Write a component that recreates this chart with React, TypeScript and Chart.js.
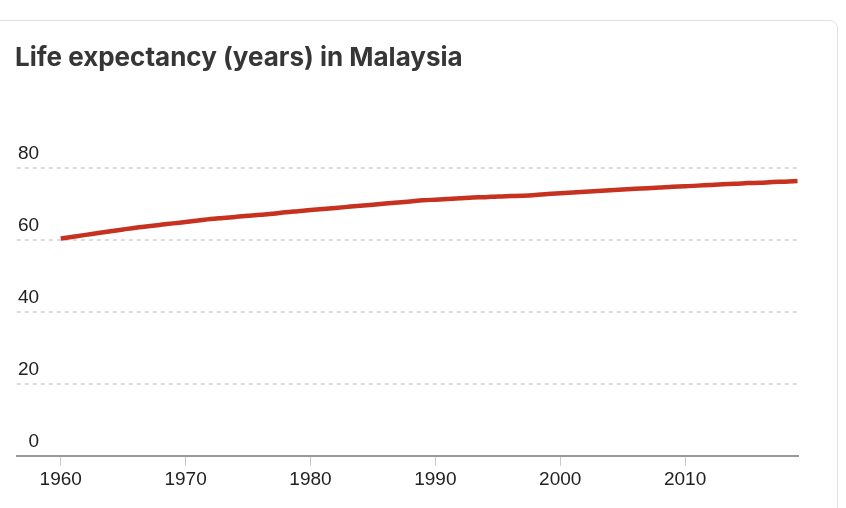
import React, { useEffect, useRef } from "react";
import { Chart, registerables } from "chart.js";

Chart.register(...registerables);

const TITLE = "Life expectancy (years) in Malaysia";

const years: number[] = [
  1960, 1961, 1962, 1963, 1964, 1965, 1966, 1967, 1968, 1969,
  1970, 1971, 1972, 1973, 1974, 1975, 1976, 1977, 1978, 1979,
  1980, 1981, 1982, 1983, 1984, 1985, 1986, 1987, 1988, 1989,
  1990, 1991, 1992, 1993, 1994, 1995, 1996, 1997, 1998, 1999,
  2000, 2001, 2002, 2003, 2004, 2005, 2006, 2007, 2008, 2009,
  2010, 2011, 2012, 2013, 2014, 2015, 2016, 2017, 2018, 2019,
];

const lifeExpectancy: number[] = [
  60.4, 60.9, 61.4, 61.9, 62.4, 62.9, 63.4, 63.8, 64.2, 64.6,
  65.0, 65.4, 65.8, 66.1, 66.4, 66.7, 67.0, 67.3, 67.7, 68.0,
  68.3, 68.6, 68.9, 69.2, 69.5, 69.8, 70.1, 70.4, 70.7, 71.0,
  71.2, 71.4, 71.6, 71.8, 71.9, 72.1, 72.2, 72.3, 72.5, 72.8,
  73.0, 73.2, 73.4, 73.6, 73.8, 74.0, 74.2, 74.4, 74.6, 74.8,
  74.9, 75.1, 75.3, 75.5, 75.6, 75.8, 75.9, 76.1, 76.2, 76.4,
];

const xTicks: number[] = [1960, 1970, 1980, 1990, 2000, 2010];
const yTicks: number[] = [0, 20, 40, 60, 80];

export default function App() {
  const ref = useRef<HTMLCanvasElement | null>(null);

  useEffect(() => {
    if (!ref.current) return;
    const chart = new Chart(ref.current, {
      type: "line",
      data: {
        datasets: [
          {
            data: years.map((y, i) => ({ x: y, y: lifeExpectancy[i] })),
            borderColor: "#c6321f",
            borderWidth: 4.5,
            pointRadius: 0,
            cubicInterpolationMode: "monotone",
            fill: false,
          },
        ],
      },
      options: {
        responsive: false,
        animation: false,
        devicePixelRatio: 1,
        layout: { padding: { left: 15, right: 48, top: 0, bottom: 0 } },
        plugins: {
          legend: { display: false },
          tooltip: { enabled: false },
          title: {
            display: true,
            text: TITLE,
            align: "start",
            color: "#363636",
            font: { family: "Inter, 'Noto Sans', sans-serif", size: 26, weight: "bold", lineHeight: 1.2 },
            padding: { top: 42.4, bottom: 94.4 },
          },
        },
        scales: {
          x: {
            type: "linear",
            min: 1956.5,
            max: 2019.04,
            afterBuildTicks: (axis: any) => {
              axis.ticks = xTicks.map((v) => ({ value: v }));
            },
            afterFit: (axis: any) => {
              axis.height = 52.3;
            },
            grid: {
              drawOnChartArea: false,
              drawTicks: true,
              tickLength: 10,
              color: "#c8c8c8",
              lineWidth: 1,
            },
            border: { display: true, color: "#999999", width: 2 },
            ticks: {
              padding: 3,
              color: "#222222",
              font: { family: "'Liberation Sans', Arial, sans-serif", size: 19 },
              maxRotation: 0,
              autoSkip: false,
              callback: (v: any) => String(v),
            },
          },
          y: {
            type: "linear",
            min: 0,
            max: 80,
            afterBuildTicks: (axis: any) => {
              axis.ticks = yTicks.map((v) => ({ value: v }));
            },
            grid: {
              drawTicks: false,
              color: (ctx: any) => (ctx.tick && ctx.tick.value === 0 ? "rgba(0,0,0,0)" : "#dddddd"),
              lineWidth: 2,
            },
            border: { display: false, dash: [4, 4] },
            ticks: {
              mirror: true,
              crossAlign: "far",
              padding: 1,
              labelOffset: -14,
              color: "#222222",
              font: { family: "'Liberation Sans', Arial, sans-serif", size: 19 },
            },
          },
        },
      } as any,
    });
    return () => chart.destroy();
  }, []);

  return (
    <div
      style={{
        position: "fixed",
        left: 0,
        top: 0,
        width: 846,
        height: 508,
        overflow: "hidden",
        background: "#ffffff",
      }}
    >
      <div
        style={{
          position: "absolute",
          left: -20,
          top: 20,
          width: 858,
          height: 560,
          border: "1px solid #dfe3e8",
          borderRadius: 8,
          boxSizing: "border-box",
        }}
      />
      <canvas
        ref={ref}
        width={846}
        height={508}
        style={{ position: "absolute", left: 0, top: 0, width: 846, height: 508 }}
      />
    </div>
  );
}
